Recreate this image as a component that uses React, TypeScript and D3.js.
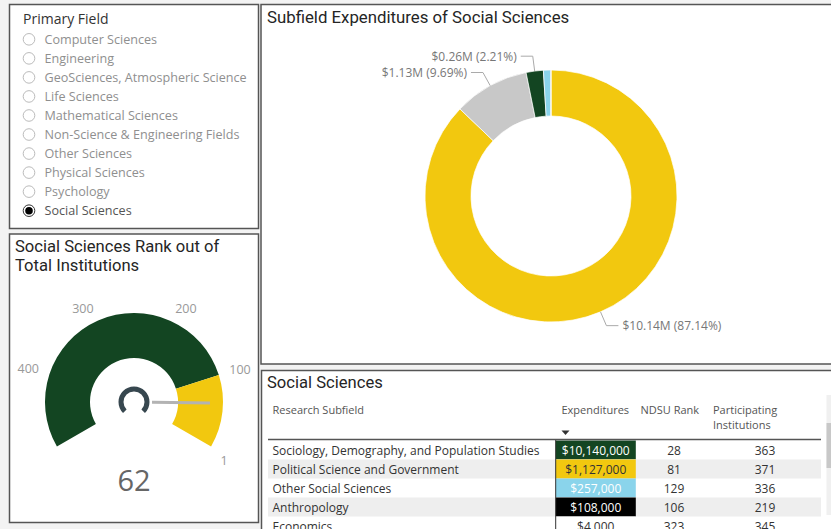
import React from 'react';
import * as d3 from 'd3';

const fields = [
  'Computer Sciences',
  'Engineering',
  'GeoSciences, Atmospheric Science',
  'Life Sciences',
  'Mathematical Sciences',
  'Non-Science & Engineering Fields',
  'Other Sciences',
  'Physical Sciences',
  'Psychology',
  'Social Sciences',
];
const selectedField = 'Social Sciences';

const subfields = [
  'Sociology, Demography, and Population Studies',
  'Political Science and Government',
  'Other Social Sciences',
  'Anthropology',
  'Economics',
];
const expenditures = [10140000, 1127000, 257000, 108000, 4000];
const ndsuRank = [28, 81, 129, 106, 323];
const participating = [363, 371, 336, 219, 345];

const sliceColors = ['#F2C80F', '#C8C8C8', '#134522', '#8AD4EB', '#5F6B6D'];
const cellColors = ['#134522', '#F2C80F', '#8AD4EB', '#000000', '#FFFFFF'];
const cellText = ['#FFFFFF', '#333333', '#FFFFFF', '#FFFFFF', '#333333'];

const rankValue = 62;
const gaugeMin = 1;
const gaugeMax = 500;
const topBand = 100;
const gaugeTicks = [1, 100, 200, 300, 400];

const W = 831;
const H = 529;
const bodyFont = '"Open Sans", "Noto Sans", sans-serif';
const titleFont = 'Roboto, "Open Sans", sans-serif';
const rad = (deg: number) => (deg * Math.PI) / 180;

function Slicer() {
  const y = d3.scaleBand<string>().domain(fields).range([29.8, 220.2]);
  return (
    <g>
      <rect x={9.5} y={4.5} width={249} height={224} fill="#fff" stroke="#555" strokeWidth={1.5} />
      <text x={23} y={18.5} dominantBaseline="central" fontSize={14} fill="#333" fontFamily={bodyFont}>
        Primary Field
      </text>
      {fields.map(f => {
        const cy = (y(f) ?? 0) + y.bandwidth() / 2;
        const sel = f === selectedField;
        return (
          <g key={f}>
            <circle cx={29} cy={cy} r={5.8} fill="#fff" stroke={sel ? '#333' : '#bbb'} strokeWidth={1} />
            {sel && <circle cx={29} cy={cy} r={3.8} fill="#000" />}
            <text x={44.5} y={cy} dominantBaseline="central" fontSize={12.6} fill={sel ? '#555' : '#8f8f8f'} fontFamily={bodyFont}>
              {f}
            </text>
          </g>
        );
      })}
    </g>
  );
}

function Gauge() {
  const cx = 134;
  const cy = 402;
  const R = 89;
  const r = 44;
  const angle = d3.scaleLinear().domain([gaugeMin, gaugeMax]).range([rad(120), rad(-120)]);
  const arc = d3.arc<{ startAngle: number; endAngle: number }>().innerRadius(r).outerRadius(R);
  const icon = d3.arc<{ startAngle: number; endAngle: number }>().innerRadius(10.5).outerRadius(15.5);
  const na = angle(rankValue);
  return (
    <g>
      <rect x={9.5} y={234} width={249} height={288.5} fill="#fff" stroke="#555" strokeWidth={1.5} />
      <text x={15} y={246.5} dominantBaseline="central" fontSize={16.6} fill="#252525" fontFamily={titleFont}>
        Social Sciences Rank out of
      </text>
      <text x={15} y={265.5} dominantBaseline="central" fontSize={16.6} fill="#252525" fontFamily={titleFont}>
        Total Institutions
      </text>
      <g transform={`translate(${cx},${cy})`}>
        <path d={arc({ startAngle: angle(gaugeMax), endAngle: angle(topBand) }) ?? ''} fill="#134522" />
        <path d={arc({ startAngle: angle(topBand), endAngle: angle(gaugeMin) }) ?? ''} fill="#F2C80F" />
        <path d={icon({ startAngle: rad(-135), endAngle: rad(135) }) ?? ''} fill="#37474F" />
        <line
          x1={18 * Math.sin(na)}
          y1={-18 * Math.cos(na)}
          x2={76 * Math.sin(na)}
          y2={-76 * Math.cos(na)}
          stroke="#B3B3B3"
          strokeWidth={3}
        />
        {gaugeTicks.map(t => {
          const a = angle(t);
          const lx = 100 * Math.sin(a);
          const ly = -100 * Math.cos(a) + (Math.cos(a) < 0 ? 8 : -2);
          return (
            <text
              key={t}
              x={lx}
              y={ly}
              textAnchor={Math.sin(a) < 0 ? 'end' : 'start'}
              dominantBaseline="central"
              fontSize={12.5}
              fill="#999"
              fontFamily={bodyFont}
            >
              {t}
            </text>
          );
        })}
        <text x={0} y={77} textAnchor="middle" dominantBaseline="central" fontSize={29} fill="#666" fontFamily={bodyFont}>
          {rankValue}
        </text>
      </g>
    </g>
  );
}

function Donut() {
  const cx = 551;
  const cy = 196;
  const R = 126;
  const total = d3.sum(expenditures);
  const pie = d3.pie<number>().sort(null).value(d => d);
  const arcs = pie(expenditures);
  const arc = d3.arc<d3.PieArcDatum<number>>().innerRadius(80).outerRadius(R);
  return (
    <g>
      <rect x={261} y={4.5} width={600} height={359.5} fill="#fff" stroke="#555" strokeWidth={1.5} />
      <text x={267} y={16.5} dominantBaseline="central" fontSize={16.8} fill="#252525" fontFamily={titleFont}>
        Subfield Expenditures of Social Sciences
      </text>
      <g transform={`translate(${cx},${cy})`}>
        {arcs.map((a, i) => (
          <path key={i} d={arc(a) ?? ''} fill={sliceColors[i]} stroke="#fff" strokeWidth={0.7} />
        ))}
        {arcs.map((a, i) => {
          const pct = (a.value / total) * 100;
          if (pct < 2) return null;
          const m = (a.startAngle + a.endAngle) / 2;
          const right = Math.sin(m) >= 0;
          const p0 = [R * Math.sin(m), -R * Math.cos(m)];
          const p1 = [(R + 15) * Math.sin(m), -(R + 15) * Math.cos(m)];
          const p2 = [p1[0] + (right ? 12 : -12), p1[1]];
          const label = `$${(a.value / 1e6).toFixed(2)}M (${pct.toFixed(2)}%)`;
          return (
            <g key={'l' + i}>
              <polyline points={[p0, p1, p2].map(p => p.join(',')).join(' ')} fill="none" stroke="#AAA" strokeWidth={1} />
              <text
                x={p2[0] + (right ? 4 : -4)}
                y={p2[1]}
                textAnchor={right ? 'start' : 'end'}
                dominantBaseline="central"
                fontSize={12}
                fill="#777"
                fontFamily={bodyFont}
              >
                {label}
              </text>
            </g>
          );
        })}
      </g>
    </g>
  );
}

function Table() {
  const rows = d3.scaleBand<string>().domain(subfields).range([440.5, 440.5 + 19 * subfields.length]);
  const fmt = d3.format('$,');
  const expX0 = 555.7;
  const expX1 = 635.8;
  const rankX = 674;
  const partX = 765;
  return (
    <g>
      <rect x={261.5} y={370.5} width={600} height={200} fill="#fff" stroke="#555" strokeWidth={1.5} />
      <text x={267} y={382.5} dominantBaseline="central" fontSize={16.6} fill="#252525" fontFamily={titleFont}>
        Social Sciences
      </text>
      <g fontFamily={bodyFont} fontSize={11} fill="#555">
        <text x={272.5} y={409} dominantBaseline="central">Research Subfield</text>
        <text x={561.5} y={409} dominantBaseline="central">Expenditures</text>
        <text x={640.5} y={409} dominantBaseline="central">NDSU Rank</text>
        <text x={713} y={409} dominantBaseline="central">Participating</text>
        <text x={713} y={424} dominantBaseline="central">Institutions</text>
        <path d="M561.5,430.5 h8 l-4,4.5 z" fill="#333" />
      </g>
      {subfields.map((s, i) => {
        const y0 = rows(s) ?? 0;
        const yc = y0 + rows.bandwidth() / 2;
        return (
          <g key={s} fontFamily={bodyFont} fontSize={12}>
            {i % 2 === 1 && <rect x={268} y={y0} width={553} height={rows.bandwidth()} fill="#EEEEEE" />}
            <rect x={expX0} y={y0} width={expX1 - expX0} height={rows.bandwidth()} fill={cellColors[i]} />
            <text x={272.5} y={yc} dominantBaseline="central" fill="#333">{s}</text>
            <text x={(expX0 + expX1) / 2} y={yc} textAnchor="middle" dominantBaseline="central" fill={cellText[i]}>
              {fmt(expenditures[i])}
            </text>
            <text x={rankX} y={yc} textAnchor="middle" dominantBaseline="central" fill="#333">{ndsuRank[i]}</text>
            <text x={partX} y={yc} textAnchor="middle" dominantBaseline="central" fill="#333">{participating[i]}</text>
          </g>
        );
      })}
      <line x1={555.7} x2={555.7} y1={439} y2={H} stroke="#333" strokeWidth={1} />
      <line x1={268} x2={821} y1={439.5} y2={439.5} stroke="#555" strokeWidth={1.5} />
      <rect x={826.5} y={395} width={4.5} height={120} fill="#F0F0F0" />
      <rect x={826.5} y={423} width={4.5} height={45} fill="#C8C8C8" />
    </g>
  );
}

export default function App() {
  return (
    <div style={{ position: 'fixed', left: 0, top: 0, width: W, height: H }}>
      <svg width={W} height={H} viewBox={`0 0 ${W} ${H}`} style={{ display: 'block', background: '#F3F3F3' }}>
        <Slicer />
        <Gauge />
        <Donut />
        <Table />
      </svg>
    </div>
  );
}
